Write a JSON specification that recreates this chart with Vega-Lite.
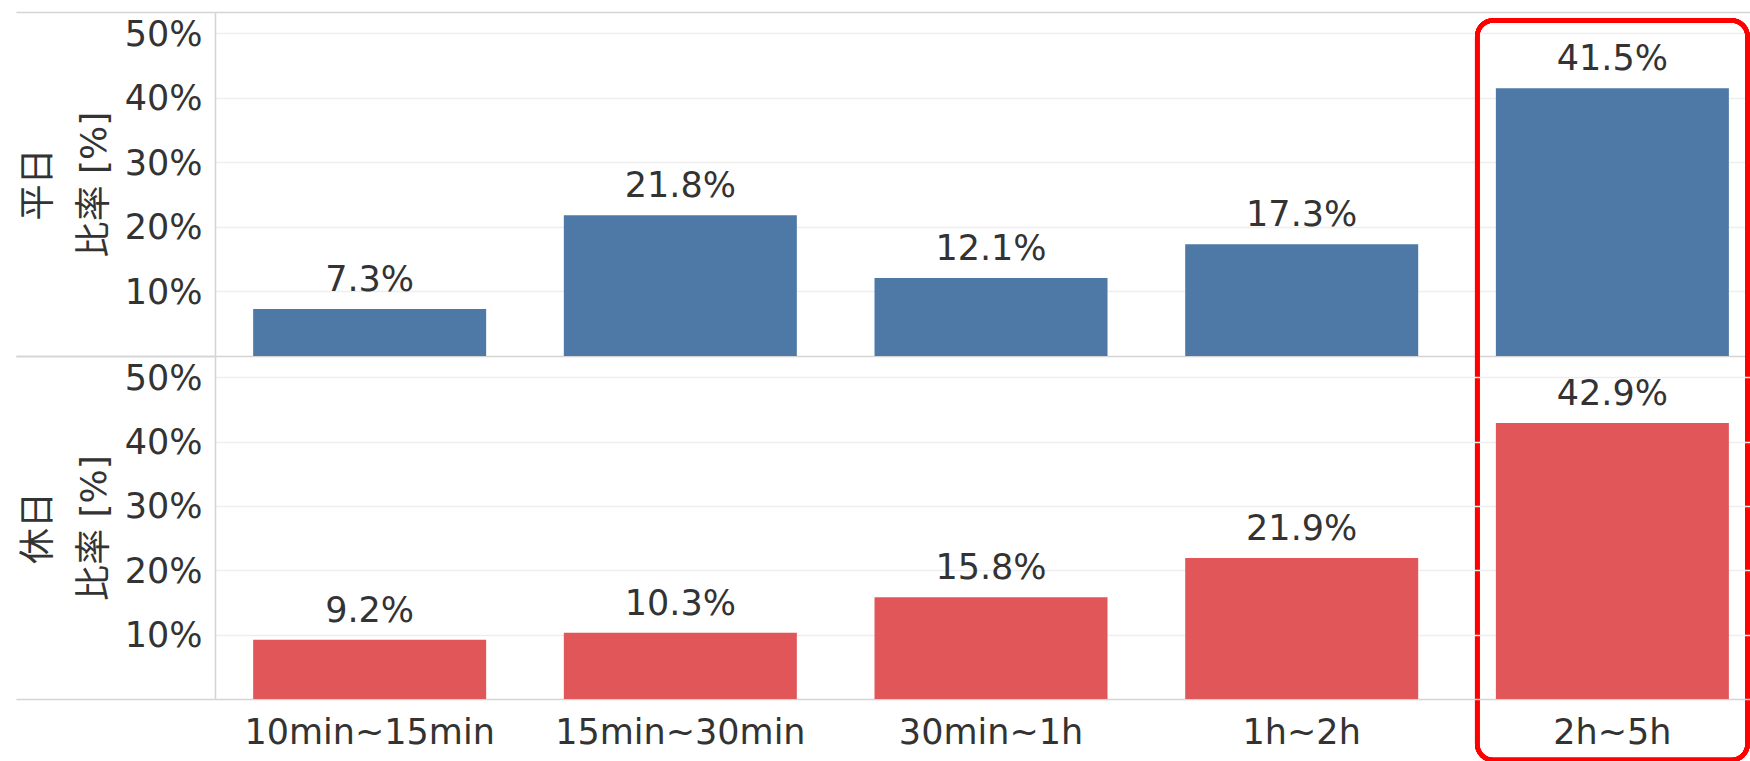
{
  "$schema": "https://vega.github.io/schema/vega-lite/v6.json",
  "padding": {"left": 15, "top": 11, "right": 0, "bottom": 0},
  "background": "white",
  "config": {
    "font": "DejaVu Sans, Noto Sans CJK JP",
    "view": {"stroke": null},
    "axis": {"labelFont": "DejaVu Sans, Noto Sans CJK JP", "titleFont": "DejaVu Sans, Noto Sans CJK JP"}
  },
  "bounds": "flush",
  "spacing": 0,
  "data": {"values": [
    {"day": "平日", "cat": "10min~15min", "v": 0.073},
    {"day": "平日", "cat": "15min~30min", "v": 0.218},
    {"day": "平日", "cat": "30min~1h", "v": 0.121},
    {"day": "平日", "cat": "1h~2h", "v": 0.173},
    {"day": "平日", "cat": "2h~5h", "v": 0.415},
    {"day": "休日", "cat": "10min~15min", "v": 0.092},
    {"day": "休日", "cat": "15min~30min", "v": 0.103},
    {"day": "休日", "cat": "30min~1h", "v": 0.158},
    {"day": "休日", "cat": "1h~2h", "v": 0.219},
    {"day": "休日", "cat": "2h~5h", "v": 0.429}
  ]},
  "vconcat": [
    {
      "width": 1536, "height": 344,
      "transform": [{"filter": "datum.day === '平日'"}],
      "layer": [
        {
          "mark": {"type": "bar", "color": "#4e79a7"},
          "encoding": {
            "x": {"field": "cat", "type": "nominal", "sort": null,
              "scale": {"domain": ["10min~15min", "15min~30min", "30min~1h", "1h~2h", "2h~5h"], "paddingInner": 0.25, "paddingOuter": 0.097, "align": 0.633},
              "axis": {"orient": "bottom", "labels": false, "ticks": false, "title": null, "domainColor": "#d4d4d4", "domainWidth": 1.5, "grid": false}},
            "y": {"field": "v", "type": "quantitative",
              "scale": {"domain": [0, 0.533], "nice": false, "zero": true},
              "axis": {
                "values": [0, 0.1, 0.2, 0.3, 0.4, 0.5, 0.533],
                "format": ".0%",
                "labelExpr": "(datum.value === 0 || datum.value > 0.52) ? '' : datum.label",
                "grid": true,
                "gridColor": {"condition": {"test": "datum.value === 0 || datum.value > 0.52", "value": "transparent"}, "value": "#eeeeee"},
                "gridWidth": 1.5,
                "domain": true, "domainColor": "#d4d4d4", "domainWidth": 1.5,
                "ticks": true, "tickSize": 199, "tickWidth": 1.5,
                "tickColor": {"condition": {"test": "datum.value === 0 || datum.value > 0.52", "value": "#d4d4d4"}, "value": "transparent"},
                "labelPadding": -186, "labelOffset": 1, "labelFontSize": 35, "labelColor": "#333333",
                "title": ["平日", "比率 [%]"], "titleFontSize": 36, "titleFontWeight": "normal", "titleColor": "#333333", "titleLineHeight": 56, "titleX": -158}}
          }
        },
        {
          "mark": {"type": "text", "dy": -11, "baseline": "bottom", "fontSize": 35, "color": "#333333"},
          "encoding": {
            "x": {"field": "cat", "type": "nominal", "sort": null,
              "axis": {"orient": "top", "labels": false, "ticks": false, "title": null, "domainColor": "#d4d4d4", "domainWidth": 1.5, "grid": false}},
            "y": {"field": "v", "type": "quantitative"},
            "text": {"field": "v", "type": "quantitative", "format": ".1%"}
          }
        },
        {
          "mark": {"type": "rect", "filled": false, "stroke": "#ff0000", "strokeWidth": 4.5, "cornerRadius": 16, "width": {"band": 1.16}},
          "encoding": {
            "x": {"datum": "2h~5h", "type": "nominal", "axis": null},
            "y": {"datum": 0.52},
            "y2": {"datum": -0.626}
          }
        }
      ]
    },
    {
      "width": 1536, "height": 343,
      "transform": [{"filter": "datum.day === '休日'"}],
      "layer": [
        {
          "mark": {"type": "bar", "color": "#e15759"},
          "encoding": {
            "x": {"field": "cat", "type": "nominal", "sort": null,
              "scale": {"domain": ["10min~15min", "15min~30min", "30min~1h", "1h~2h", "2h~5h"], "paddingInner": 0.25, "paddingOuter": 0.097, "align": 0.633},
              "axis": {"orient": "bottom", "labelAngle": 0, "labelFontSize": 35, "labelLimit": 0, "labelColor": "#333333", "labelPadding": 16, "ticks": false, "title": null, "domainColor": "#d4d4d4", "domainWidth": 1.5, "grid": false}},
            "y": {"field": "v", "type": "quantitative",
              "scale": {"domain": [0, 0.533], "nice": false, "zero": true},
              "axis": {
                "values": [0, 0.1, 0.2, 0.3, 0.4, 0.5, 0.533],
                "format": ".0%",
                "labelExpr": "(datum.value === 0 || datum.value > 0.52) ? '' : datum.label",
                "grid": true,
                "gridColor": {"condition": {"test": "datum.value === 0 || datum.value > 0.52", "value": "transparent"}, "value": "#eeeeee"},
                "gridWidth": 1.5,
                "domain": true, "domainColor": "#d4d4d4", "domainWidth": 1.5,
                "ticks": true, "tickSize": 199, "tickWidth": 1.5,
                "tickColor": {"condition": {"test": "datum.value === 0 || datum.value > 0.52", "value": "#d4d4d4"}, "value": "transparent"},
                "labelPadding": -186, "labelOffset": 1, "labelFontSize": 35, "labelColor": "#333333",
                "title": ["休日", "比率 [%]"], "titleFontSize": 36, "titleFontWeight": "normal", "titleColor": "#333333", "titleLineHeight": 56, "titleX": -158}}
          }
        },
        {
          "mark": {"type": "text", "dy": -11, "baseline": "bottom", "fontSize": 35, "color": "#333333"},
          "encoding": {
            "x": {"field": "cat", "type": "nominal", "sort": null},
            "y": {"field": "v", "type": "quantitative"},
            "text": {"field": "v", "type": "quantitative", "format": ".1%"}
          }
        }
      ]
    }
  ]
}
